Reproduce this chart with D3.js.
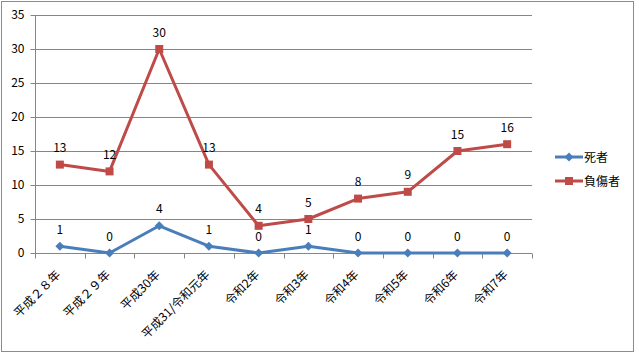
<!DOCTYPE html>
<html><head><meta charset="utf-8">
<script src="https://cdn.jsdelivr.net/npm/d3@7/dist/d3.min.js"></script>
<style>body{margin:0;background:#fff}svg{display:block}text{font-family:"Noto Sans CJK JP","Noto Sans",sans-serif}</style>
</head><body>
<script>
const categories = ["平成２８年","平成２９年","平成30年","平成31/令和元年","令和2年","令和3年","令和4年","令和5年","令和6年","令和7年"];
const deaths = [1,0,4,1,0,1,0,0,0,0];
const injured = [13,12,30,13,4,5,8,9,15,16];
const yTicks = [0,5,10,15,20,25,30,35];
const seriesNames = ["死者","負傷者"];

const W=639,H=357;
const svg=d3.select("body").append("svg").attr("width",W).attr("height",H);
svg.append("rect").attr("x",1.5).attr("y",1.5).attr("width",632).attr("height",350).attr("fill","#fff").attr("stroke","#8c8c8c");

const x=d3.scaleBand().domain(categories).range([35,532]);
const y=d3.scaleLinear().domain([0,35]).range([253,15]);
const cx=d=>x(d)+x.bandwidth()/2;

// gridlines
svg.append("g").selectAll("line").data(yTicks.filter(t=>t>0)).join("line")
  .attr("x1",35).attr("x2",532).attr("y1",d=>Math.round(y(d))+0.5).attr("y2",d=>Math.round(y(d))+0.5)
  .attr("stroke","#868686");

// y axis
const ya=svg.append("g").attr("transform","translate(35.5,0)")
  .call(d3.axisLeft(y).tickValues(yTicks).tickSize(5).tickPadding(6));
ya.select(".domain").attr("stroke","#868686").attr("d","M0,15V253");
ya.selectAll(".tick line").attr("stroke","#868686");
ya.selectAll(".tick").attr("transform",d=>`translate(0,${Math.round(y(d))+0.5})`);
ya.selectAll("text").attr("font-size",12).attr("fill","#000");

// x axis
const xa=svg.append("g").attr("transform",`translate(0,${Math.round(y(0))+0.5})`);
xa.append("line").attr("x1",35).attr("x2",532).attr("stroke","#868686");
const bounds=categories.map(c=>x(c)).concat([x.range()[1]]);
xa.selectAll("line.tk").data(bounds).join("line").attr("class","tk")
  .attr("x1",d=>Math.round(d)+0.5).attr("x2",d=>Math.round(d)+0.5).attr("y1",0).attr("y2",5).attr("stroke","#868686");
xa.selectAll("text").data(categories).join("text")
  .attr("text-anchor","end").attr("font-size",12).attr("fill","#000")
  .attr("transform",d=>`translate(${cx(d)+1.5},${22}) rotate(-45)`)
  .text(d=>d);

const series=[
  {name:seriesNames[1],vals:injured,color:"#be4b48",shape:"square"},
  {name:seriesNames[0],vals:deaths,color:"#4a7ebb",shape:"diamond"}
];
const line=d3.line().x((d,i)=>cx(categories[i])).y(d=>y(d));
function marker(g,shape,color,px,py){
  if(shape==="square") g.append("rect").attr("x",px-4).attr("y",py-4).attr("width",8).attr("height",8).attr("fill",color);
  else g.append("path").attr("d",`M${px},${py-4.5}L${px+4.5},${py}L${px},${py+4.5}L${px-4.5},${py}Z`).attr("fill",color);
}
series.forEach(s=>{
  svg.append("path").datum(s.vals).attr("d",line).attr("fill","none").attr("stroke",s.color).attr("stroke-width",3).attr("stroke-linejoin","round");
  const g=svg.append("g");
  s.vals.forEach((v,i)=>marker(g,s.shape,s.color,cx(categories[i]),y(v)));
});
series.forEach(s=>{
  svg.append("g").selectAll("text").data(s.vals).join("text")
    .attr("x",(d,i)=>cx(categories[i])).attr("y",d=>y(d)-12.5)
    .attr("text-anchor","middle").attr("font-size",12).attr("fill","#000").text(d=>d);
});

// legend
const leg=[{name:seriesNames[0],color:"#4a7ebb",shape:"diamond",y:157},{name:seriesNames[1],color:"#be4b48",shape:"square",y:181}];
leg.forEach(l=>{
  const g=svg.append("g");
  g.append("line").attr("x1",555).attr("x2",583).attr("y1",l.y).attr("y2",l.y).attr("stroke",l.color).attr("stroke-width",3);
  marker(g,l.shape,l.color,569,l.y);
  g.append("text").attr("x",584).attr("y",l.y+4.5).attr("font-size",12).attr("fill","#000").text(l.name);
});
</script>
</body></html>
